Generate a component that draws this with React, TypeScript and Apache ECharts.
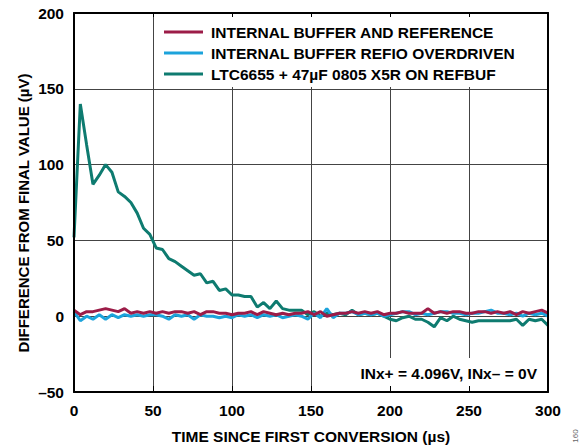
import React, { useEffect, useRef } from "react";
import * as echarts from "echarts";

const timeUs = [
  0, 4, 8, 12, 16, 20, 24, 28, 32, 36, 40, 44, 48, 52, 56, 60, 64, 68, 72, 76,
  80, 84, 88, 92, 96, 100, 104, 108, 112, 116, 120, 124, 128, 132, 136, 140, 144, 148, 152, 156,
  160, 164, 168, 172, 176, 180, 184, 188, 192, 196, 200, 204, 208, 212, 216, 220, 224, 228, 232, 236,
  240, 244, 248, 252, 256, 260, 264, 268, 272, 276, 280, 284, 288, 292, 296, 300,
];

const internalBufRef = [
  4, 1, 3, 3, 4, 5, 4, 3, 5, 2, 3, 2, 3, 2, 3, 2, 3, 3, 2, 3,
  1, 3, 3, 2, 2, 1, 2, 2, 3, 1, 3, 2, 1, 2, 1, 2, 2, 3, 1, 3,
  0, 1, 2, 2, 3, 2, 3, 2, 3, 1, 2, 2, 3, 2, 2, 2, 5, 2, 3, 2,
  3, 3, 2, 2, 3, 3, 2, 3, 2, 3, 1, 3, 2, 3, 4, 2,
];

const refioOverdriven = [
  3, -3, 0, -2, 1, -2, 1, -1, 1, 0, 1, 0, 1, 1, 0, -2, 1, 0, 1, -2,
  1, 0, 0, -1, 0, -1, 1, 0, 1, -1, 1, 0, 1, -1, 0, 1, 0, -2, 2, -1,
  5, -1, 2, 2, 3, 1, 2, 1, 2, 0, 1, 2, 3, 3, 1, 2, 1, 2, 3, 3,
  2, 2, 1, 2, 2, 3, 4, 2, 2, 1, 2, 0, 2, 1, 2, 0,
];

const ltc6655 = [
  52, 140, 113, 87, 93, 100, 95, 82, 79, 75, 68, 58, 54, 45, 44, 38, 36, 33, 30, 27,
  28, 22, 23, 17, 18, 14, 14, 13, 13, 6, 9, 5, 10, 5, 4, 4, 4, 1, 3, 0,
  2, 1, 2, 1, 4, 1, 2, 1, 2, 0, -2, -3, -1, 0, -2, -2, -4, -7, -1, -3,
  0, -2, -3, -4, -3, -3, -3, -3, -3, -3, -2, -6, -2, -3, -2, -6,
];

const seriesNames = [
  "INTERNAL BUFFER AND REFERENCE",
  "INTERNAL BUFFER REFIO OVERDRIVEN",
  "LTC6655 + 47µF 0805 X5R ON REFBUF",
];
const seriesColors = ["#9C1C48", "#1CA3DB", "#0E7B70"];

const FONT = "'Liberation Sans', Arial, Helvetica, sans-serif";

export default function App() {
  const ref = useRef<HTMLDivElement>(null);
  useEffect(() => {
    if (!ref.current) return;
    const chart = echarts.init(ref.current, undefined, { renderer: "svg" });
    const pair = (arr: number[]) => timeUs.map((t, i) => [t, arr[i]]);
    const grid = { left: 74, right: 39, top: 13, bottom: 53 };
    const dash = (v: number) => String(v).replace("-", "–");
    const labelStyle = { color: "#000", fontFamily: FONT, fontWeight: "bold" as const, fontSize: 15.5 };
    chart.setOption({
      animation: false,
      backgroundColor: "#fff",
      grid,
      legend: {
        orient: "vertical",
        left: 164,
        top: 24,
        padding: 0,
        itemGap: 5,
        itemWidth: 39,
        itemHeight: 3,
        icon: "rect",
        z: 6,
        data: seriesNames,
        textStyle: { ...labelStyle, lineHeight: 15.5, padding: [0, 0, 0, 3] },
      },
      xAxis: [
        {
          type: "value", min: 0, max: 300, interval: 50, z: 0,
          axisLine: { show: false }, axisTick: { show: false }, axisLabel: { show: false },
          splitLine: { show: true, lineStyle: { color: "#444", width: 1 } },
        },
        {
          type: "value", min: 0, max: 300, interval: 50, z: 5, position: "bottom",
          axisLine: { show: true, onZero: false, lineStyle: { color: "#000", width: 2 } },
          axisTick: { show: true, inside: true, length: 6, lineStyle: { color: "#000", width: 1 } },
          axisLabel: { ...labelStyle, margin: 10 },
          splitLine: { show: false },
        },
        {
          type: "value", min: 0, max: 300, interval: 50, z: 5, position: "top",
          axisLine: { show: true, onZero: false, lineStyle: { color: "#000", width: 2 } },
          axisTick: { show: true, inside: true, length: 4, lineStyle: { color: "#000", width: 1 } },
          axisLabel: { show: false },
          splitLine: { show: false },
        },
      ],
      yAxis: [
        {
          type: "value", min: -50, max: 200, interval: 50, z: 0,
          axisLine: { show: false }, axisTick: { show: false }, axisLabel: { show: false },
          splitLine: { show: true, lineStyle: { color: "#444", width: 1 } },
        },
        {
          type: "value", min: -50, max: 200, interval: 50, z: 5, position: "left",
          axisLine: { show: true, onZero: false, lineStyle: { color: "#000", width: 2 } },
          axisTick: { show: false },
          axisLabel: { ...labelStyle, margin: 10, formatter: dash },
          splitLine: { show: false },
        },
        {
          type: "value", min: -50, max: 200, interval: 50, z: 5, position: "right",
          axisLine: { show: true, onZero: false, lineStyle: { color: "#000", width: 2 } },
          axisTick: { show: false },
          axisLabel: { show: false },
          splitLine: { show: false },
        },
      ],
      series: [
        { name: seriesNames[2], data: pair(ltc6655), color: seriesColors[2], z: 2 },
        { name: seriesNames[1], data: pair(refioOverdriven), color: seriesColors[1], z: 3 },
        { name: seriesNames[0], data: pair(internalBufRef), color: seriesColors[0], z: 4 },
      ].map((s) => ({
        type: "line",
        name: s.name,
        data: s.data,
        xAxisIndex: 0,
        yAxisIndex: 0,
        symbol: "none",
        showSymbol: false,
        z: s.z,
        itemStyle: { color: s.color },
        lineStyle: { color: s.color, width: 3 },
      })),
      graphic: [
        { type: "rect", z: 1, shape: { x: 159, y: 14, width: 388, height: 73 }, style: { fill: "#fff" } },
        { type: "rect", z: 1, shape: { x: 350, y: 358, width: 197, height: 33 }, style: { fill: "#fff" } },
        {
          type: "text", z: 6, x: 537, y: 373,
          style: { text: "INx+ = 4.096V, INx– = 0V", fill: "#000", font: `bold 15.5px ${FONT}`, align: "right", verticalAlign: "middle" },
        },
        {
          type: "text", z: 6, x: 311, y: 436,
          style: { text: "TIME SINCE FIRST CONVERSION (µs)", fill: "#000", font: `bold 15.5px ${FONT}`, align: "center", verticalAlign: "middle" },
        },
        {
          type: "text", z: 6, x: 23, y: 213, rotation: Math.PI / 2,
          style: { text: "DIFFERENCE FROM FINAL VALUE (µV)", fill: "#000", font: `bold 15px ${FONT}`, align: "center", verticalAlign: "middle" },
        },
        {
          type: "text", z: 6, x: 575, y: 436, rotation: Math.PI / 2,
          style: { text: "160", fill: "#666", font: `8px ${FONT}`, align: "center", verticalAlign: "middle" },
        },
      ],
    });
    return () => chart.dispose();
  }, []);
  return <div ref={ref} style={{ position: "fixed", left: 0, top: 0, width: 587, height: 445 }} />;
}
